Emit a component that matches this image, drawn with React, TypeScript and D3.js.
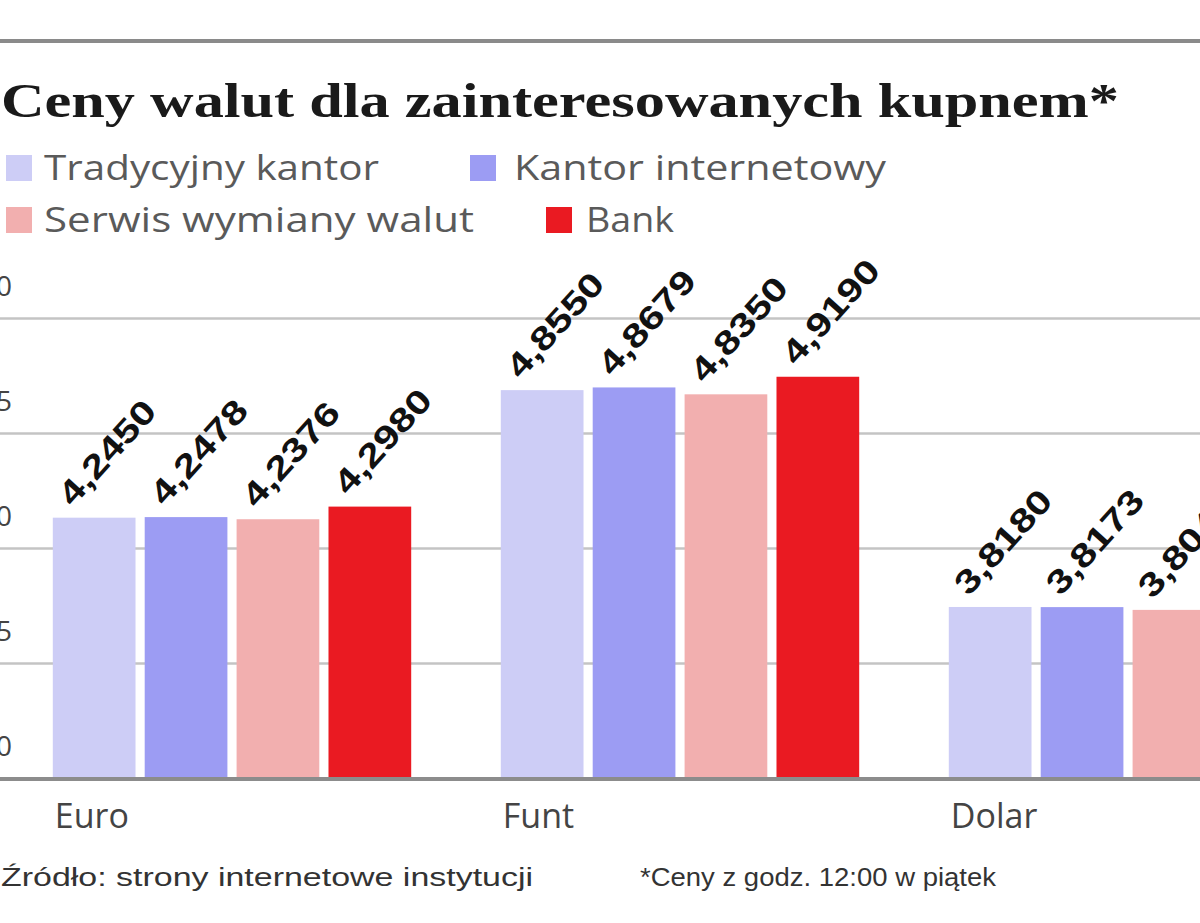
import { axisLeft, scaleBand, scaleLinear, select } from "d3";
import React, { useEffect, useRef } from "react";

const currencies = ["Euro", "Funt", "Dolar"];
const sources = ["Tradycyjny kantor", "Kantor internetowy", "Serwis wymiany walut", "Bank"];
const colors = ["#cdcdf6", "#9c9cf3", "#f2afaf", "#ea1a22"];

const tradycyjny = [4.245, 4.855, 3.818];
const internetowy = [4.2478, 4.8679, 3.8173];
const serwis = [4.2376, 4.835, 3.804];
const bank = [4.298, 4.919, 3.865];

const tickValues = [3, 3.55, 4.1, 4.65, 5.2];

const title = "Ceny walut dla zainteresowanych kupnem*";
const source = "Źródło: strony internetowe instytucji";
const note = "*Ceny z godz. 12:00 w piątek";

const fmt = (v: number) => v.toFixed(4).replace(".", ",");

const Chart: React.FC = () => {
    const svgRef = useRef<SVGSVGElement>(null);

    useEffect(() => {
        if (svgRef.current) {
            svgRef.current.innerHTML = "";
        }
        const values = [tradycyjny, internetowy, serwis, bank];
        const svg = select(svgRef.current);

        const yScale = scaleLinear().domain([3, 5.2]).range([778, 318]);
        const x0 = scaleBand()
            .domain(currencies)
            .range([8, 8 + 3 * 448])
            .paddingInner(0.2)
            .paddingOuter(0.1);
        const x1 = scaleBand()
            .domain(sources)
            .range([0, x0.bandwidth()])
            .paddingInner(0.1);

        // top rule
        svg.append("line")
            .attr("x1", 0)
            .attr("x2", 1200)
            .attr("y1", 41)
            .attr("y2", 41)
            .attr("stroke", "#8a8a8a")
            .attr("stroke-width", 4);

        svg.append("text")
            .attr("x", 1)
            .attr("y", 117)
            .attr("font-family", "Liberation Serif, serif")
            .attr("font-weight", "bold")
            .attr("font-size", 48)
            .attr("fill", "#1a1a1a")
            .attr("textLength", 1118)
            .attr("lengthAdjust", "spacingAndGlyphs")
            .text(title);

        // legend
        const legendPos = [
            [6, 168, 44, 335],
            [470, 168, 514, 372],
            [6, 220, 44, 430],
            [546, 220, 586, 88],
        ];
        sources.forEach((s, i) => {
            const [sx, cy, tx, tl] = legendPos[i];
            svg.append("rect")
                .attr("x", sx)
                .attr("y", cy - 13)
                .attr("width", 26)
                .attr("height", 26)
                .attr("fill", colors[i]);
            svg.append("text")
                .attr("x", tx)
                .attr("y", cy + 12)
                .attr("font-family", "Open Sans, sans-serif")
                .attr("font-size", 34)
                .attr("fill", "#5a5a5a")
                .attr("textLength", tl)
                .attr("lengthAdjust", "spacingAndGlyphs")
                .text(s);
        });

        // grid + y labels
        svg.append("g")
            .call(axisLeft(yScale).tickValues(tickValues).tickSize(-1200).tickFormat(() => ""))
            .call(g => g.select(".domain").remove())
            .call(g =>
                g.selectAll(".tick line")
                    .attr("stroke", "#c4c4c4")
                    .attr("stroke-width", 2.5),
            );

        svg.append("g")
            .selectAll("text")
            .data(tickValues)
            .enter()
            .append("text")
            .attr("x", 12)
            .attr("y", d => yScale(d) - 22)
            .attr("text-anchor", "end")
            .attr("font-family", "Open Sans, sans-serif")
            .attr("font-size", 28)
            .attr("fill", "#444")
            .text(d => d.toFixed(2).replace(".", ","));

        // bars
        currencies.forEach((c, ci) => {
            sources.forEach((s, si) => {
                const v = values[si][ci];
                const x = (x0(c) ?? 0) + (x1(s) ?? 0);
                svg.append("rect")
                    .attr("x", x)
                    .attr("y", yScale(v))
                    .attr("width", x1.bandwidth())
                    .attr("height", yScale(3) - yScale(v))
                    .attr("fill", colors[si]);
                const lx = x + x1.bandwidth() * 0.24;
                const ly = yScale(v) - 10;
                svg.append("text")
                    .attr("transform", `translate(${lx},${ly}) rotate(-48)`)
                    .attr("font-family", "Liberation Sans, sans-serif")
                    .attr("font-weight", "bold")
                    .attr("font-size", 33)
                    .attr("fill", "#111")
                    .attr("textLength", 128)
                    .attr("lengthAdjust", "spacingAndGlyphs")
                    .text(fmt(v));
            });
        });

        // baseline
        svg.append("line")
            .attr("x1", 0)
            .attr("x2", 1200)
            .attr("y1", yScale(3) + 1)
            .attr("y2", yScale(3) + 1)
            .attr("stroke", "#8c8c8c")
            .attr("stroke-width", 4);

        // category labels
        svg.append("g")
            .selectAll("text")
            .data(currencies)
            .enter()
            .append("text")
            .attr("x", d => (x0(d) ?? 0) + 2)
            .attr("y", 828)
            .attr("font-family", "Open Sans, sans-serif")
            .attr("font-size", 34)
            .attr("fill", "#444")
            .text(d => d);

        svg.append("text")
            .attr("x", 1)
            .attr("y", 886)
            .attr("font-family", "Liberation Sans, sans-serif")
            .attr("font-size", 26)
            .attr("fill", "#333")
            .attr("textLength", 532)
            .attr("lengthAdjust", "spacingAndGlyphs")
            .text(source);

        svg.append("text")
            .attr("x", 640)
            .attr("y", 886)
            .attr("font-family", "Liberation Sans, sans-serif")
            .attr("font-size", 26)
            .attr("fill", "#333")
            .attr("textLength", 356)
            .attr("lengthAdjust", "spacingAndGlyphs")
            .text(note);
    }, []);

    return (
        <svg
            ref={svgRef}
            width={1200}
            height={923}
            style={{ position: "absolute", left: 0, top: 0, background: "#fff" }}
        ></svg>
    );
};

export default function App() {
    return <Chart />;
}
